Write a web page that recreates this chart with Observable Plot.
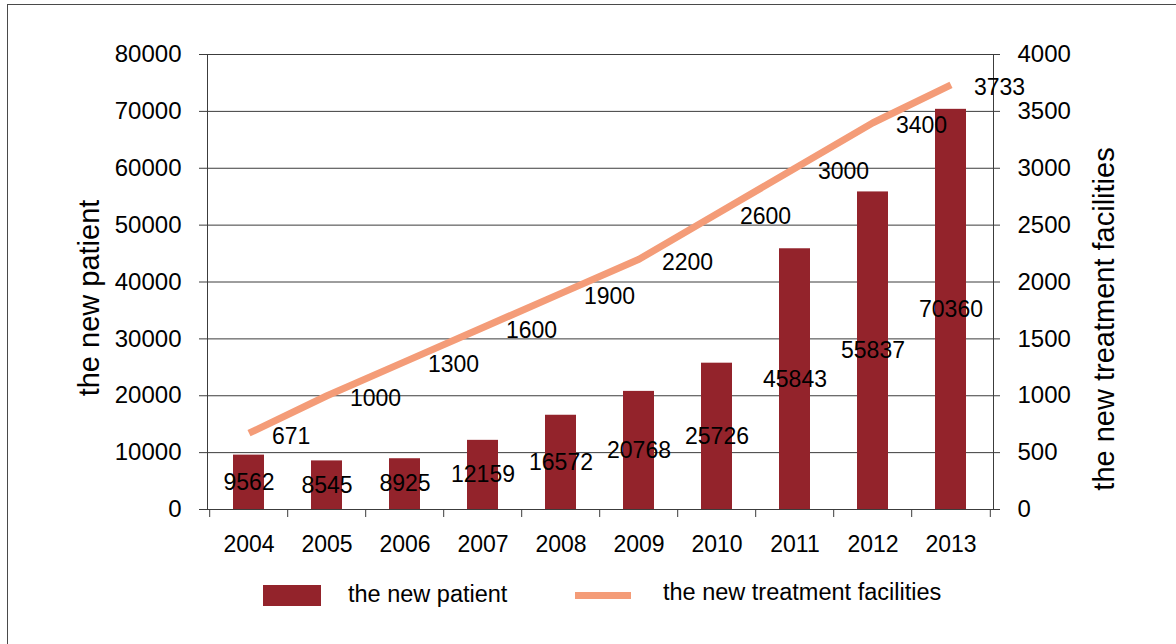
<!DOCTYPE html>
<html>
<head>
<meta charset="utf-8">
<script src="https://cdn.jsdelivr.net/npm/d3@7"></script>
<script src="https://cdn.jsdelivr.net/npm/@observablehq/plot@0.6"></script>
<style>
  html, body { margin: 0; padding: 0; background: #fff; }
  #wrap { position: relative; width: 1176px; height: 644px; overflow: hidden; font-family: "Liberation Sans", Arial, sans-serif; color: #000; }
  #border { position: absolute; left: 7px; top: 4px; width: 1300px; height: 700px; border-top: 1.5px solid #4a4a4a; border-left: 1.5px solid #4a4a4a; }
  #chart { position: absolute; left: 0; top: 0; }
  .lg { position: absolute; }
  .lgtext { position: absolute; font-size: 23.5px; line-height: 24px; white-space: nowrap; }
</style>
</head>
<body>
<div id="wrap">
  <div id="border"></div>
  <div id="chart"></div>
  <div class="lg" id="sw1" style="left:263px;top:585px;width:58px;height:21px;"></div>
  <div class="lgtext" id="lt1" style="left:348px;top:582px;"></div>
  <div class="lg" id="sw2" style="left:575px;top:592px;width:56px;height:7px;"></div>
  <div class="lgtext" id="lt2" style="left:663px;top:580px;"></div>
</div>
<script>
const years = ["2004","2005","2006","2007","2008","2009","2010","2011","2012","2013"];
const newPatients = [9562, 8545, 8925, 12159, 16572, 20768, 25726, 45843, 55837, 70360];
const newFacilities = [671, 1000, 1300, 1600, 1900, 2200, 2600, 3000, 3400, 3733];
const leftTicks = [0, 10000, 20000, 30000, 40000, 50000, 60000, 70000, 80000];
const rightTickLabels = [0, 500, 1000, 1500, 2000, 2500, 3000, 3500, 4000];
const seriesNames = ["the new patient", "the new treatment facilities"];
const colors = ["#93232B", "#F49C78"];

// right axis maps 0..4000 onto left 0..80000
const ratio = 80000 / 4000;

const data = years.map((y, i) => ({year: y, patients: newPatients[i], fac: newFacilities[i]}));

const W = 1176, H = 560, mL = 207, mR = 183, mT = 54, mB = 51;
const step = (W - mL - mR) / years.length;
const gridColor = "#3c3c3c";
const font = '"Liberation Sans", Arial, sans-serif';

const chart = Plot.plot({
  width: W, height: H,
  marginLeft: mL, marginRight: mR, marginTop: mT, marginBottom: mB,
  style: {fontFamily: font, fontSize: "23px", color: "#000", background: "transparent"},
  x: {type: "band", domain: years, paddingInner: 0.6, paddingOuter: 0.3, label: null, axis: null},
  y: {domain: [0, 80000], label: null, axis: null},
  marks: [
    Plot.ruleY(leftTicks, {stroke: gridColor, strokeWidth: 1, insetLeft: -8, insetRight: -7}),
    Plot.barY(data, {x: "year", y: "patients", fill: colors[0]}),
    Plot.frame({stroke: gridColor, strokeWidth: 1}),
    Plot.ruleX(data, {x: "year", dx: -step / 2, y1: 0, y2: 0, insetBottom: -8, stroke: gridColor}),
    Plot.ruleX(data.slice(-1), {x: "year", dx: step / 2, y1: 0, y2: 0, insetBottom: -8, stroke: gridColor}),
    Plot.line(data, {x: "year", y: d => d.fac * ratio, stroke: colors[1], strokeWidth: 7, strokeLinecap: "butt", strokeLinejoin: "round"}),
    Plot.text(data, {x: "year", y: d => d.patients / 2, text: d => String(d.patients), fontSize: 23, fill: "#000"}),
    Plot.text(data, {x: "year", y: d => d.fac * ratio, text: d => String(d.fac), textAnchor: "start", dx: 23, dy: 3, fontSize: 23, fill: "#000"}),
    Plot.axisY(leftTicks, {anchor: "left", tickSize: 0, tickPadding: 26, tickFormat: d => String(d), fontSize: 24, label: null}),
    Plot.axisY(leftTicks, {anchor: "right", tickSize: 0, tickPadding: 24, tickFormat: (d, i) => String(rightTickLabels[i]), fontSize: 24, label: null}),
    Plot.axisX(years, {anchor: "bottom", tickSize: 0, tickPadding: 26, fontSize: 23, label: null}),
    Plot.text([seriesNames[0]], {frameAnchor: "left", textAnchor: "middle", lineAnchor: "middle", dx: -118, dy: 16, rotate: -90, fontSize: 29, fill: "#000"}),
    Plot.text([seriesNames[1]], {frameAnchor: "right", textAnchor: "middle", lineAnchor: "middle", dx: 111, dy: 37, rotate: -90, fontSize: 29, fill: "#000"})
  ]
});
document.getElementById("chart").appendChild(chart);
document.getElementById("sw1").style.background = colors[0];
document.getElementById("sw2").style.background = colors[1];
document.getElementById("lt1").textContent = seriesNames[0];
document.getElementById("lt2").textContent = seriesNames[1];
</script>
</body>
</html>
